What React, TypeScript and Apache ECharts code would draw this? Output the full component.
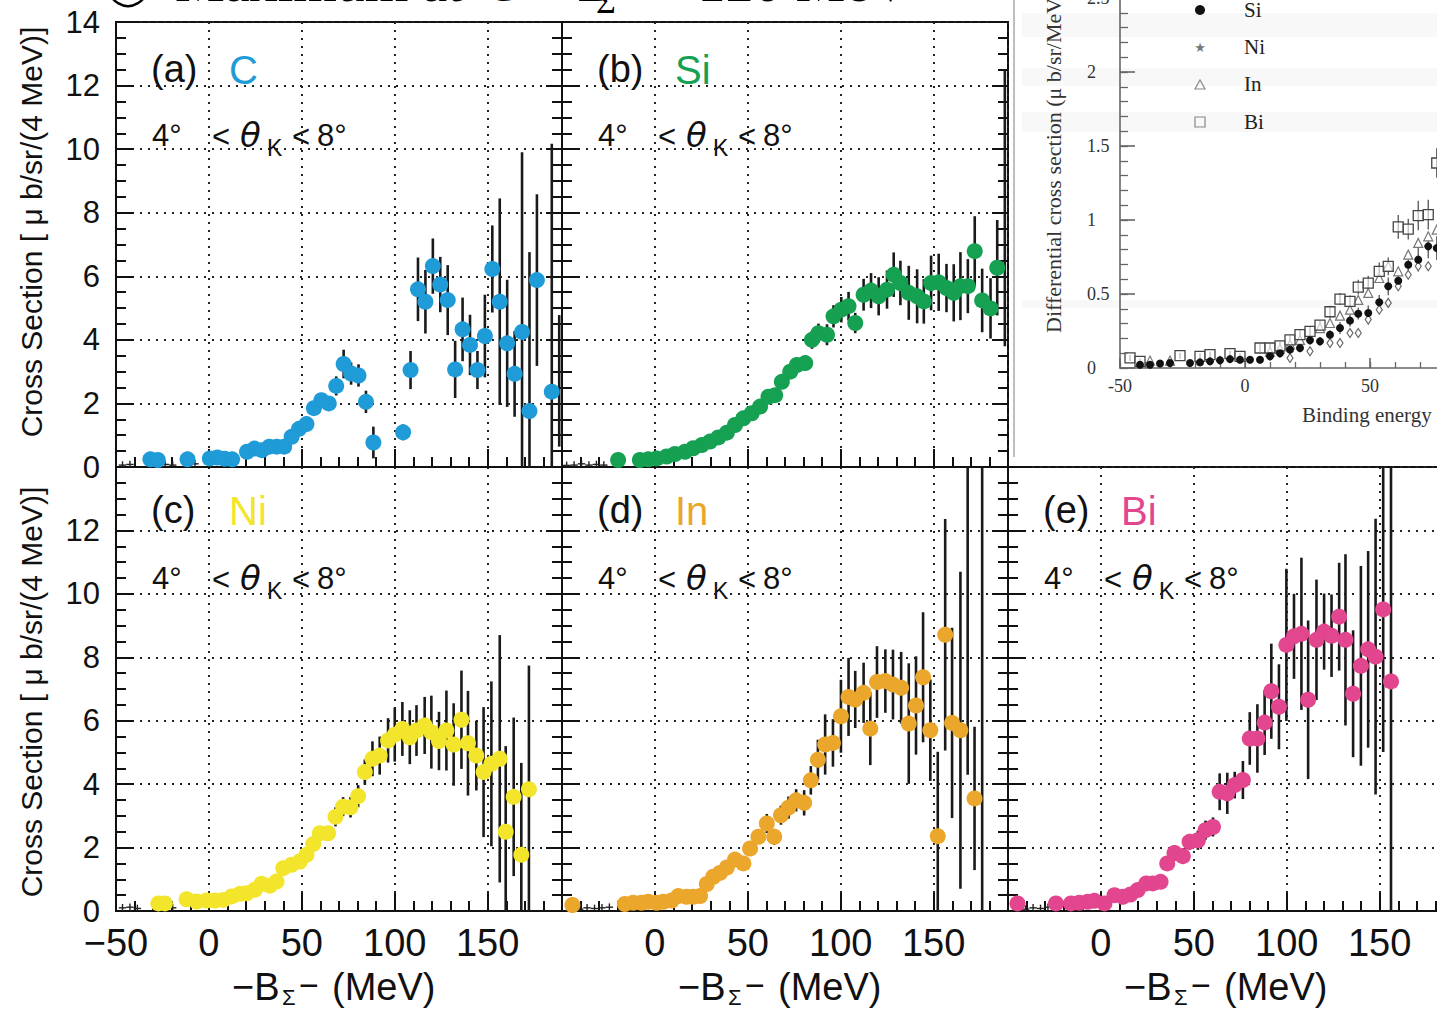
import React, { useEffect, useRef } from "react";
import * as echarts from "echarts";

// ---------- tick labels ----------
const X_LABELS_FIRST = [-50, 0, 50, 100, 150];
const X_LABELS_REST = [0, 50, 100, 150];
const Y_LABELS_TOP = [0, 2, 4, 6, 8, 10, 12, 14];
const Y_LABELS_BOTTOM = [0, 2, 4, 6, 8, 10, 12];
const INSET_X_LABELS = [-50, 0, 50];
const INSET_Y_LABELS = [0, 0.5, 1, 1.5, 2, 2.5];

// ---------- panel data: [x (MeV), cross section, error] ----------
const C_DATA = [
  [-31.5, 0.24, 0.1], [-27.5, 0.22, 0.1], [-11.5, 0.24, 0.1], [0.5, 0.27, 0.1], [4.5, 0.3, 0.1],
  [8.5, 0.26, 0.1], [12.5, 0.24, 0.1], [20.5, 0.48, 0.12], [24.5, 0.58, 0.12], [28.5, 0.53, 0.12],
  [32.5, 0.64, 0.12], [36.5, 0.64, 0.13], [40.5, 0.64, 0.13], [44.5, 0.95, 0.15], [48.5, 1.2, 0.15],
  [52.5, 1.35, 0.17], [56.5, 1.85, 0.2], [60.5, 2.1, 0.22], [64.5, 2.0, 0.22], [68.5, 2.55, 0.3],
  [72.5, 3.24, 0.45], [76.5, 2.94, 0.35], [80.5, 2.88, 0.35], [84.5, 2.05, 0.35], [88.5, 0.77, 0.5],
  [104.5, 1.09, 0.25], [108.5, 3.05, 0.6], [112.5, 5.59, 1.0], [116.5, 5.2, 1.0], [120.5, 6.32, 0.87],
  [124.5, 5.74, 0.87], [128.5, 5.25, 1.1], [132.5, 3.07, 0.9], [136.5, 4.33, 1.0], [140.5, 3.84, 0.95],
  [144.5, 3.05, 0.6], [148.5, 4.12, 1.3], [152.5, 6.23, 1.37], [156.5, 5.2, 3.25], [160.5, 3.89, 2.0],
  [164.5, 2.93, 1.35], [168.5, 4.25, 5.65], [172.5, 1.76, 5.0], [176.5, 5.88, 2.7], [184.5, 2.37, 7.8],
];
const SI_DATA = [
  [-19.8, 0.22, 0.08], [-8.1, 0.22, 0.08], [-3.6, 0.24, 0.08], [0.9, 0.27, 0.08], [6.3, 0.33, 0.08],
  [10.8, 0.41, 0.08], [16.2, 0.48, 0.08], [20.6, 0.59, 0.09], [25.2, 0.69, 0.09], [29.6, 0.8, 0.1],
  [34.1, 0.93, 0.1], [38.7, 1.08, 0.11], [43.1, 1.32, 0.12], [47.6, 1.53, 0.13], [52.1, 1.69, 0.14],
  [56.6, 1.9, 0.15], [61.1, 2.21, 0.17], [64.7, 2.26, 0.18], [68.3, 2.68, 0.2], [72.8, 3.0, 0.21],
  [76.4, 3.21, 0.22], [80.9, 3.27, 0.23], [84.5, 4.0, 0.28], [88.0, 4.21, 0.3], [92.6, 4.16, 0.33],
  [96.1, 4.74, 0.35], [100.3, 4.95, 0.4], [104.2, 5.06, 0.45], [107.8, 4.53, 0.32], [112.3, 5.42, 0.5],
  [116.3, 5.55, 0.55], [120.4, 5.37, 0.6], [124.9, 5.58, 0.6], [128.5, 6.05, 0.7], [132.1, 5.79, 0.7],
  [136.6, 5.48, 0.85], [141.1, 5.37, 0.85], [144.7, 5.21, 0.7], [148.6, 5.79, 0.86], [152.7, 5.81, 0.9],
  [156.9, 5.63, 0.76], [160.8, 5.48, 0.9], [164.4, 5.69, 1.07], [168.4, 5.69, 0.85], [172.1, 6.79, 1.1],
  [176.1, 5.24, 1.0], [180.6, 4.99, 0.95], [184.2, 6.27, 1.5],
];
const NI_DATA = [
  [-27.2, 0.24, 0.1], [-23.7, 0.24, 0.1], [-12.0, 0.37, 0.1], [-6.6, 0.3, 0.1], [-1.2, 0.33, 0.1],
  [3.2, 0.33, 0.1], [7.7, 0.35, 0.1], [12.2, 0.46, 0.1], [16.7, 0.54, 0.1], [20.3, 0.56, 0.1],
  [24.7, 0.67, 0.12], [28.3, 0.86, 0.12], [32.8, 0.8, 0.12], [36.4, 0.93, 0.13], [40.0, 1.35, 0.15],
  [44.5, 1.46, 0.15], [48.9, 1.56, 0.16], [52.5, 1.77, 0.18], [56.1, 2.11, 0.2], [59.7, 2.45, 0.22],
  [64.1, 2.45, 0.22], [68.1, 2.97, 0.3], [72.2, 3.29, 0.3], [76.2, 3.27, 0.32], [80.3, 3.62, 0.35],
  [83.9, 4.38, 0.4], [88.0, 4.8, 0.55], [91.9, 4.9, 0.6], [96.4, 5.38, 0.7], [100.0, 5.56, 0.85],
  [104.1, 5.74, 0.85], [108.1, 5.48, 0.85], [111.7, 5.69, 0.8], [116.1, 5.85, 0.9], [119.7, 5.64, 1.15],
  [123.8, 5.36, 0.92], [127.8, 5.69, 1.26], [131.7, 5.25, 1.3], [135.9, 6.03, 1.55], [139.4, 5.29, 1.65],
  [143.9, 4.9, 1.1], [147.8, 4.38, 2.05], [152.0, 4.64, 2.6], [156.5, 4.8, 3.9], [159.7, 2.5, 2.7],
  [164.0, 3.6, 2.5], [168.1, 1.77, 2.9], [172.2, 3.84, 3.9],
];
const IN_DATA = [
  [-44.4, 0.19, 0.08], [-16.2, 0.22, 0.08], [-11.7, 0.26, 0.08], [-7.2, 0.26, 0.08], [-3.6, 0.29, 0.08],
  [0.9, 0.26, 0.08], [4.5, 0.29, 0.08], [9.0, 0.33, 0.08], [12.6, 0.47, 0.1], [17.1, 0.45, 0.1],
  [20.6, 0.45, 0.1], [24.3, 0.47, 0.1], [27.9, 0.85, 0.12], [31.4, 1.08, 0.12], [35.0, 1.2, 0.13],
  [38.7, 1.37, 0.14], [43.1, 1.62, 0.15], [47.6, 1.5, 0.15], [51.2, 1.97, 0.2], [55.7, 2.34, 0.22],
  [60.2, 2.76, 0.3], [64.2, 2.34, 0.25], [67.8, 3.02, 0.3], [71.9, 3.26, 0.35], [76.0, 3.49, 0.35],
  [80.3, 3.41, 0.4], [83.9, 4.12, 0.45], [87.7, 4.77, 0.63], [91.6, 5.25, 0.95], [95.8, 5.3, 0.75],
  [100.1, 6.14, 1.15], [104.2, 6.75, 1.23], [107.8, 6.67, 0.9], [112.3, 6.88, 0.95], [115.9, 5.75, 1.15],
  [119.5, 7.22, 1.13], [124.0, 7.25, 1.0], [128.1, 7.14, 1.1], [132.5, 7.04, 1.13], [136.6, 5.91, 1.9],
  [140.5, 6.48, 1.55], [144.3, 7.37, 2.05], [148.2, 5.7, 1.6], [152.2, 2.36, 2.66], [156.2, 8.71, 3.65],
  [159.9, 5.93, 3.0], [164.4, 5.7, 5.0], [172.0, 3.55, 2.26],
];
const BI_DATA = [
  [-44.9, 0.24, 0.08], [-24.2, 0.24, 0.08], [-16.1, 0.24, 0.08], [-11.6, 0.26, 0.08], [-7.1, 0.29, 0.08],
  [-3.5, 0.32, 0.08], [1.9, 0.24, 0.08], [7.3, 0.5, 0.1], [11.8, 0.45, 0.1], [15.9, 0.52, 0.1],
  [19.8, 0.66, 0.1], [24.4, 0.87, 0.12], [27.9, 0.87, 0.12], [32.1, 0.92, 0.13], [35.7, 1.5, 0.2],
  [39.6, 1.83, 0.25], [44.1, 1.73, 0.25], [47.7, 2.18, 0.25], [52.2, 2.23, 0.3], [56.3, 2.55, 0.3],
  [60.3, 2.65, 0.3], [63.9, 3.76, 0.58], [68.0, 3.71, 0.65], [72.0, 3.97, 0.42], [76.4, 4.13, 0.6],
  [80.1, 5.44, 0.83], [84.2, 5.44, 1.08], [88.1, 5.94, 1.02], [91.7, 6.93, 1.5], [95.8, 6.44, 1.34],
  [99.8, 8.39, 2.4], [103.9, 8.66, 1.34], [107.9, 8.74, 2.4], [111.5, 6.66, 2.5], [116.0, 8.55, 1.9],
  [120.1, 8.81, 1.2], [124.1, 8.68, 1.3], [128.2, 9.28, 1.7], [131.6, 8.55, 2.7], [135.7, 6.85, 2.0],
  [139.9, 7.73, 3.15], [143.8, 8.25, 3.1], [147.8, 8.02, 4.35], [151.9, 9.51, 4.5], [156.1, 7.24, 14],
];

// error bars whose marker is not visible: [x, low, high]
const C_EXTRA = [[188.5, 0.64, 4.78]];
const SI_EXTRA = [[188.3, 3.8, 12.5]];
const NI_EXTRA: number[][] = [];
const IN_EXTRA = [[168.3, 4.3, 14], [176.1, 0, 14]];
const BI_EXTRA: number[][] = [];

// tiny near-zero points drawn as crosses: [x, y]
const C_CROSSES = [[-46.5, 0.06], [-42.5, 0.08], [-23.5, 0.08], [-19.5, 0.06], [-7.5, 0.1]];
const SI_CROSSES = [[-47.5, 0.05], [-43.5, 0.06], [-39.5, 0.1], [-35.5, 0.06], [-31.5, 0.08], [-27.5, 0.06]];
const NI_CROSSES = [[-46.5, 0.1], [-42.5, 0.12], [-38.5, 0.08], [-19.5, 0.1]];
const IN_CROSSES = [[-40.5, 0.06], [-36.5, 0.1], [-32.5, 0.08], [-28.5, 0.1], [-24.5, 0.12]];
const BI_CROSSES = [[-40.5, 0.06], [-36.5, 0.1], [-32.5, 0.08], [-28.5, 0.12]];

// ---------- inset data (binding energy, µb/sr/MeV, error) ----------
const INSET_SI = [
  [-42, 0.022, 0.02], [-38, 0.022, 0.02], [-34, 0.03, 0.02], [-30, 0.034, 0.02], [-22, 0.034, 0.02],
  [-18, 0.038, 0.02], [-14, 0.045, 0.02], [-10, 0.052, 0.03], [-6, 0.06, 0.02], [-2, 0.056, 0.02],
  [2, 0.056, 0.02], [6, 0.056, 0.02], [10, 0.079, 0.03], [14, 0.1, 0.03], [18, 0.124, 0.03],
  [22, 0.135, 0.03], [26, 0.187, 0.03], [30, 0.18, 0.03], [34, 0.225, 0.03], [38, 0.27, 0.04],
  [42, 0.32, 0.04], [45.3, 0.367, 0.04], [49.3, 0.372, 0.05], [53.7, 0.444, 0.05], [57.3, 0.552, 0.06],
  [61.3, 0.59, 0.06], [65.3, 0.698, 0.08], [69.3, 0.732, 0.08], [73.3, 0.822, 0.08], [76.7, 0.81, 0.08],
];
const INSET_BI = [
  [-46, 0.068, 0.02], [-42, 0.045, 0.02], [-26, 0.083, 0.02], [-18, 0.079, 0.02], [-14, 0.09, 0.02],
  [-6, 0.097, 0.02], [-2, 0.079, 0.02], [6, 0.135, 0.03], [10, 0.135, 0.03], [14, 0.15, 0.03],
  [18, 0.19, 0.03], [22, 0.225, 0.03], [26, 0.248, 0.03], [30, 0.29, 0.03], [34, 0.38, 0.04],
  [38, 0.466, 0.04], [42, 0.45, 0.04], [45.3, 0.547, 0.05], [49.3, 0.574, 0.05], [53.7, 0.653, 0.06],
  [57.3, 0.687, 0.06], [61.3, 0.953, 0.08], [65.3, 0.939, 0.07], [69.3, 1.03, 0.1], [73.3, 1.036, 0.1],
  [76.7, 1.385, 0.1],
];
const INSET_IN = [
  [-38, 0.05], [-30, 0.05], [10, 0.11], [14, 0.13], [18, 0.16], [22, 0.19], [30, 0.27], [34, 0.304],
  [38, 0.354], [42, 0.394], [45.3, 0.46], [49.3, 0.507], [53.7, 0.608], [57.3, 0.687], [61.3, 0.653],
  [65.3, 0.766], [69.3, 0.845], [73.3, 0.89], [76.7, 0.935],
];
const INSET_DIAMOND = [
  [18, 0.068], [26, 0.113], [34, 0.169], [38, 0.169], [42, 0.236], [45.3, 0.236], [49.3, 0.327],
  [53.7, 0.394], [57.3, 0.44], [61.3, 0.552], [65.3, 0.63], [69.3, 0.687], [73.3, 0.687],
];
const INSET_LEGEND = ["Si", "Ni", "In", "Bi"];

// ---------- layout ----------
const SANS = '"Liberation Sans", Arial, Helvetica, sans-serif';
const SERIF = '"Liberation Serif", "Times New Roman", serif';
const PW = 446;
const PANELS = [
  { tag: "(a)", el: "C", color: "#1f9bd7", data: C_DATA, extra: C_EXTRA, crosses: C_CROSSES, left: 116, top: 22, h: 445, xl: [] as number[], yl: Y_LABELS_TOP },
  { tag: "(b)", el: "Si", color: "#15a052", data: SI_DATA, extra: SI_EXTRA, crosses: SI_CROSSES, left: 562, top: 22, h: 445, xl: [] as number[], yl: [] as number[] },
  { tag: "(c)", el: "Ni", color: "#f2e52b", data: NI_DATA, extra: NI_EXTRA, crosses: NI_CROSSES, left: 116, top: 467, h: 444, xl: X_LABELS_FIRST, yl: Y_LABELS_BOTTOM },
  { tag: "(d)", el: "In", color: "#eba62c", data: IN_DATA, extra: IN_EXTRA, crosses: IN_CROSSES, left: 562, top: 467, h: 444, xl: X_LABELS_REST, yl: [] as number[] },
  { tag: "(e)", el: "Bi", color: "#e2468f", data: BI_DATA, extra: BI_EXTRA, crosses: BI_CROSSES, left: 1008, top: 467, h: 444, xl: X_LABELS_REST, yl: [] as number[] },
];

const fmtNum = (v: number) => (v < 0 ? "\u2212" + Math.abs(v) : String(v));
const BLACK = "#111";

function buildOption() {
  const grid: any[] = [];
  const xAxis: any[] = [];
  const yAxis: any[] = [];
  const series: any[] = [];
  const graphic: any[] = [];

  PANELS.forEach((p, i) => {
    grid.push({ left: p.left, top: p.top, width: PW, height: p.h, show: true, borderColor: BLACK, borderWidth: 2, backgroundColor: "transparent", outerBoundsMode: "none", containLabel: false });
    const xi = xAxis.length;
    xAxis.push({
      gridIndex: i, type: "value", min: -50, max: 190, interval: 50, position: "bottom",
      axisLine: { show: true, onZero: false, lineStyle: { color: BLACK, width: 2 } },
      axisTick: { show: true, inside: true, length: 18, lineStyle: { color: BLACK, width: 2 } },
      axisLabel: {
        show: p.xl.length > 0, margin: 13, fontSize: 38, fontFamily: SANS, color: BLACK,
        formatter: (v: number) => (p.xl.includes(v) ? fmtNum(v) : ""),
      },
      splitLine: { show: true, lineStyle: { color: "#222", width: 2, type: [2, 6] } },
    });
    xAxis.push({
      gridIndex: i, type: "value", min: -50, max: 190, interval: 10, position: "bottom",
      axisLine: { show: false, onZero: false },
      axisTick: { show: true, inside: true, length: 10, lineStyle: { color: BLACK, width: 2 } },
      axisLabel: { show: false }, splitLine: { show: false },
    });
    const yi = yAxis.length;
    yAxis.push({
      gridIndex: i, type: "value", min: 0, max: 14, interval: 2, position: "left",
      axisLine: { show: true, onZero: false, lineStyle: { color: BLACK, width: 2 } },
      axisTick: { show: true, inside: true, length: 18, lineStyle: { color: BLACK, width: 2 } },
      axisLabel: {
        show: p.yl.length > 0, margin: 16, fontSize: 31, fontFamily: SANS, color: BLACK,
        formatter: (v: number) => (p.yl.includes(v) ? String(v) : ""),
      },
      splitLine: { show: true, lineStyle: { color: "#222", width: 2, type: [2, 6] } },
    });
    yAxis.push({
      gridIndex: i, type: "value", min: 0, max: 14, interval: 0.5, position: "left",
      axisLine: { show: false, onZero: false },
      axisTick: { show: true, inside: true, length: 10, lineStyle: { color: BLACK, width: 2 } },
      axisLabel: { show: false }, splitLine: { show: false },
    });
    yAxis.push({
      gridIndex: i, type: "value", min: 0, max: 14, interval: 2, position: "right",
      axisLine: { show: false, onZero: false },
      axisTick: { show: true, inside: true, length: 16, lineStyle: { color: BLACK, width: 2 } },
      axisLabel: { show: false }, splitLine: { show: false },
    });
    yAxis.push({
      gridIndex: i, type: "value", min: 0, max: 14, interval: 0.5, position: "right",
      axisLine: { show: false, onZero: false },
      axisTick: { show: true, inside: true, length: 10, lineStyle: { color: BLACK, width: 2 } },
      axisLabel: { show: false }, splitLine: { show: false },
    });

    // error bars
    series.push({
      type: "custom", xAxisIndex: xi, yAxisIndex: yi, data: p.data, z: 3, silent: true,
      renderItem: (_params: any, api: any) => {
        const x = api.value(0), y = api.value(1), e = api.value(2);
        const a = api.coord([x, Math.min(y + e, 14)]);
        const b = api.coord([x, Math.max(y - e, 0)]);
        return { type: "line", shape: { x1: a[0], y1: a[1], x2: b[0], y2: b[1] }, style: { stroke: "#1a1a1a", lineWidth: 2.6 } };
      },
    });
    // bars without visible marker
    series.push({
      type: "custom", xAxisIndex: xi, yAxisIndex: yi, data: p.extra, z: 3, silent: true,
      renderItem: (_params: any, api: any) => {
        const x = api.value(0), lo = api.value(1), hi = api.value(2);
        const a = api.coord([x, Math.min(hi, 14)]);
        const b = api.coord([x, Math.max(lo, 0)]);
        return { type: "line", shape: { x1: a[0], y1: a[1], x2: b[0], y2: b[1] }, style: { stroke: "#1a1a1a", lineWidth: 2.6 } };
      },
    });
    // tiny crosses
    series.push({
      type: "custom", xAxisIndex: xi, yAxisIndex: yi, data: p.crosses, z: 3, silent: true,
      renderItem: (_params: any, api: any) => {
        const x = api.value(0), y = api.value(1);
        const l = api.coord([x - 2, y]), r = api.coord([x + 2, y]);
        const t = api.coord([x, y + 0.12]), b = api.coord([x, Math.max(0, y - 0.12)]);
        const st = { stroke: "#222", lineWidth: 1.4 };
        return {
          type: "group",
          children: [
            { type: "line", shape: { x1: l[0], y1: l[1], x2: r[0], y2: r[1] }, style: st },
            { type: "line", shape: { x1: t[0], y1: t[1], x2: b[0], y2: b[1] }, style: st },
          ],
        };
      },
    });
    // markers
    series.push({
      type: "scatter", xAxisIndex: xi, yAxisIndex: yi, z: 4, silent: true,
      data: p.data.map((d) => [d[0], d[1]]),
      symbol: "circle", symbolSize: 16,
      itemStyle: { color: p.color, opacity: 1 },
    });

    // panel texts
    const bottomRow = p.top > 100;
    const labY = p.top + (bottomRow ? 43 : 47);
    graphic.push({ type: "text", x: p.left + 35, y: labY, style: { text: p.tag, fill: BLACK, font: `38px ${SANS}`, textVerticalAlign: "middle" } });
    graphic.push({ type: "text", x: p.left + 113, y: labY + 1, style: { text: p.el, fill: p.color, font: `40px ${SANS}`, textVerticalAlign: "middle" } });
    const thY = p.top + (bottomRow ? 111 : 113);
    graphic.push({ type: "text", x: p.left + 36, y: thY, style: { text: "4\u00b0", fill: BLACK, font: `31px ${SANS}`, textVerticalAlign: "middle" } });
    graphic.push({ type: "text", x: p.left + 96, y: thY + 1, style: { text: "<", fill: BLACK, font: `31px ${SANS}`, textVerticalAlign: "middle" } });
    graphic.push({ type: "text", x: p.left + 124, y: thY, style: { text: "\u03b8", fill: BLACK, font: `italic 34px "DejaVu Sans", ${SANS}`, textVerticalAlign: "middle" } });
    graphic.push({ type: "text", x: p.left + 151, y: thY + 13, style: { text: "K", fill: BLACK, font: `23px ${SANS}`, textVerticalAlign: "middle" } });
    graphic.push({ type: "text", x: p.left + 176, y: thY + 1, style: { text: "<", fill: BLACK, font: `31px ${SANS}`, textVerticalAlign: "middle" } });
    graphic.push({ type: "text", x: p.left + 201, y: thY, style: { text: "8\u00b0", fill: BLACK, font: `31px ${SANS}`, textVerticalAlign: "middle" } });

    // x titles
    if (bottomRow) {
      graphic.push({ type: "text", x: p.left + 116, y: 987, style: { text: "\u2212B", fill: BLACK, font: `38px ${SANS}`, textVerticalAlign: "middle" } });
      graphic.push({ type: "text", x: p.left + 166, y: 997, style: { text: "\u03a3", fill: BLACK, font: `22px ${SANS}`, textVerticalAlign: "middle" } });
      graphic.push({ type: "text", x: p.left + 183, y: 985, style: { text: "\u2212", fill: BLACK, font: `34px ${SANS}`, textVerticalAlign: "middle" } });
      graphic.push({ type: "text", x: p.left + 216, y: 987, style: { text: "(MeV)", fill: BLACK, font: `38px ${SANS}`, textVerticalAlign: "middle" } });
    }
  });

  // y titles
  const yTitle = "Cross Section [ \u03bc b/sr/(4 MeV)]";
  graphic.push({ type: "text", x: 31, y: 232, rotation: Math.PI / 2, style: { text: yTitle, fill: BLACK, font: `30px ${SANS}`, textAlign: "center", textVerticalAlign: "middle" } });
  graphic.push({ type: "text", x: 31, y: 692, rotation: Math.PI / 2, style: { text: yTitle, fill: BLACK, font: `30px ${SANS}`, textAlign: "center", textVerticalAlign: "middle" } });

  // ---------- inset ----------
  const gi = grid.length;
  grid.push({ left: 1120, top: -2, width: 600, height: 370, show: false, outerBoundsMode: "none", containLabel: false });
  const ixi = xAxis.length;
  xAxis.push({
    gridIndex: gi, type: "value", min: -50, max: 190, interval: 50, position: "bottom",
    axisLine: { show: true, onZero: false, lineStyle: { color: "#666", width: 1.6 } },
    axisTick: { show: true, inside: true, length: 10, lineStyle: { color: "#666", width: 1.6 } },
    axisLabel: { show: true, margin: 9, fontSize: 18, fontFamily: SERIF, color: "#333", formatter: (v: number) => (INSET_X_LABELS.includes(v) ? String(v) : "") },
    splitLine: { show: false },
  });
  xAxis.push({
    gridIndex: gi, type: "value", min: -50, max: 190, interval: 10, position: "bottom",
    axisLine: { show: false, onZero: false },
    axisTick: { show: true, inside: true, length: 6, lineStyle: { color: "#666", width: 1.3 } },
    axisLabel: { show: false }, splitLine: { show: false },
  });
  const iyi = yAxis.length;
  yAxis.push({
    gridIndex: gi, type: "value", min: 0, max: 2.5, interval: 0.5, position: "left",
    axisLine: { show: true, onZero: false, lineStyle: { color: "#666", width: 1.6 } },
    axisTick: { show: true, inside: true, length: 15, lineStyle: { color: "#666", width: 1.6 } },
    axisLabel: { show: true, margin: 33, align: "left", fontSize: 18, fontFamily: SERIF, color: "#333", formatter: (v: number) => (INSET_Y_LABELS.includes(v) ? String(v) : "") },
    splitLine: { show: false },
  });
  yAxis.push({
    gridIndex: gi, type: "value", min: 0, max: 2.5, interval: 0.1, position: "left",
    axisLine: { show: false, onZero: false },
    axisTick: { show: true, inside: true, length: 8, lineStyle: { color: "#666", width: 1.3 } },
    axisLabel: { show: false }, splitLine: { show: false },
  });
  const insetErr = (data: number[][]) => ({
    type: "custom", xAxisIndex: ixi, yAxisIndex: iyi, data, z: 2, silent: true,
    renderItem: (_p: any, api: any) => {
      const x = api.value(0), y = api.value(1), e = api.value(2);
      const a = api.coord([x, y + e]);
      const b = api.coord([x, Math.max(0, y - e)]);
      return { type: "line", shape: { x1: a[0], y1: a[1], x2: b[0], y2: b[1] }, style: { stroke: "#555", lineWidth: 1.3 } };
    },
  });
  series.push(insetErr(INSET_SI));
  series.push(insetErr(INSET_BI));
  series.push({
    type: "scatter", xAxisIndex: ixi, yAxisIndex: iyi, z: 3, silent: true, data: INSET_DIAMOND,
    symbol: "diamond", symbolSize: [6, 9], itemStyle: { color: "#fff", borderColor: "#666", borderWidth: 1.2, opacity: 1 },
  });
  series.push({
    type: "scatter", xAxisIndex: ixi, yAxisIndex: iyi, z: 3, silent: true, data: INSET_IN,
    symbol: "triangle", symbolSize: 9, itemStyle: { color: "#fff", borderColor: "#777", borderWidth: 1.2, opacity: 1 },
  });
  series.push({
    type: "scatter", xAxisIndex: ixi, yAxisIndex: iyi, z: 4, silent: true, data: INSET_BI.map((d) => [d[0], d[1]]),
    symbol: "rect", symbolSize: 10, itemStyle: { color: "rgba(255,255,255,0.6)", borderColor: "#444", borderWidth: 1.3, opacity: 1 },
  });
  series.push({
    type: "scatter", xAxisIndex: ixi, yAxisIndex: iyi, z: 5, silent: true, data: INSET_SI.map((d) => [d[0], d[1]]),
    symbol: "circle", symbolSize: 8, itemStyle: { color: "#111", opacity: 1 },
  });

  // inset decorations
  [[13, 24], [68, 18], [112, 20], [300, 8]].forEach(([y, h]) => {
    graphic.push({ type: "rect", z: -10, shape: { x: 1022, y, width: 415, height: h }, style: { fill: "#f8f8f8" } });
  });
  graphic.push({ type: "line", shape: { x1: 1014, y1: 0, x2: 1014, y2: 457 }, style: { stroke: "#aaa", lineWidth: 1.5 } });
  graphic.push({
    type: "text", x: 1053, y: 333, rotation: Math.PI / 2,
    style: { text: "Differential cross section (\u03bc b/sr/MeV)", fill: "#333", font: `22px ${SERIF}`, textAlign: "left", textVerticalAlign: "middle" },
  });
  graphic.push({ type: "text", x: 1302, y: 415, style: { text: "Binding energy", fill: "#333", font: `21px ${SERIF}`, textVerticalAlign: "middle" } });
  const legY = [10, 47, 84, 122];
  graphic.push({ type: "circle", shape: { cx: 1200, cy: legY[0], r: 5 }, style: { fill: "#111" } });
  graphic.push({ type: "text", x: 1200, y: legY[1], style: { text: "\u2605", fill: "#777", font: `13px "DejaVu Sans"`, textAlign: "center", textVerticalAlign: "middle" } });
  graphic.push({ type: "polygon", shape: { points: [[1195, legY[2] + 5], [1205, legY[2] + 5], [1200, legY[2] - 4]] }, style: { fill: "none", stroke: "#888", lineWidth: 1.2 } });
  graphic.push({ type: "rect", shape: { x: 1195, y: legY[3] - 5, width: 10, height: 10 }, style: { fill: "none", stroke: "#888", lineWidth: 1.2 } });
  INSET_LEGEND.forEach((name, k) => {
    graphic.push({ type: "text", x: 1244, y: legY[k], style: { text: name, fill: "#222", font: `21px ${SERIF}`, textVerticalAlign: "middle" } });
  });

  // ---------- cut-off heading at the top ----------
  graphic.push({ type: "circle", shape: { cx: 128, cy: -13, r: 19 }, style: { fill: "none", stroke: "#000", lineWidth: 2.5 } });
  graphic.push({ type: "text", x: 175, y: -18, style: { text: "Maximum at", fill: "#000", font: `56px ${SERIF}`, textVerticalAlign: "middle" } });
  graphic.push({ type: "text", x: 486, y: -15, style: { text: "C", fill: "#000", font: `46px ${SERIF}`, textVerticalAlign: "middle" } });
  graphic.push({ type: "text", x: 546, y: -18, style: { text: "\u2212B", fill: "#000", font: `56px ${SERIF}`, textVerticalAlign: "middle" } });
  graphic.push({ type: "text", x: 596, y: 1, style: { text: "\u03a3", fill: "#000", font: `34px ${SERIF}`, textVerticalAlign: "middle" } });
  graphic.push({ type: "text", x: 652, y: -18, style: { text: "< 120 MeV", fill: "#000", font: `56px ${SERIF}`, textVerticalAlign: "middle" } });

  return {
    animation: false,
    backgroundColor: "#fff",
    grid, xAxis, yAxis, series, graphic,
  };
}

export default function App() {
  const ref = useRef<HTMLDivElement>(null);
  useEffect(() => {
    if (!ref.current) return;
    const chart = echarts.init(ref.current, null, { renderer: "svg" });
    chart.setOption(buildOption() as any);
    return () => chart.dispose();
  }, []);
  return (
    <div
      ref={ref}
      style={{ position: "absolute", left: 0, top: 0, width: 1437, height: 1011, background: "#fff", overflow: "hidden" }}
    />
  );
}
